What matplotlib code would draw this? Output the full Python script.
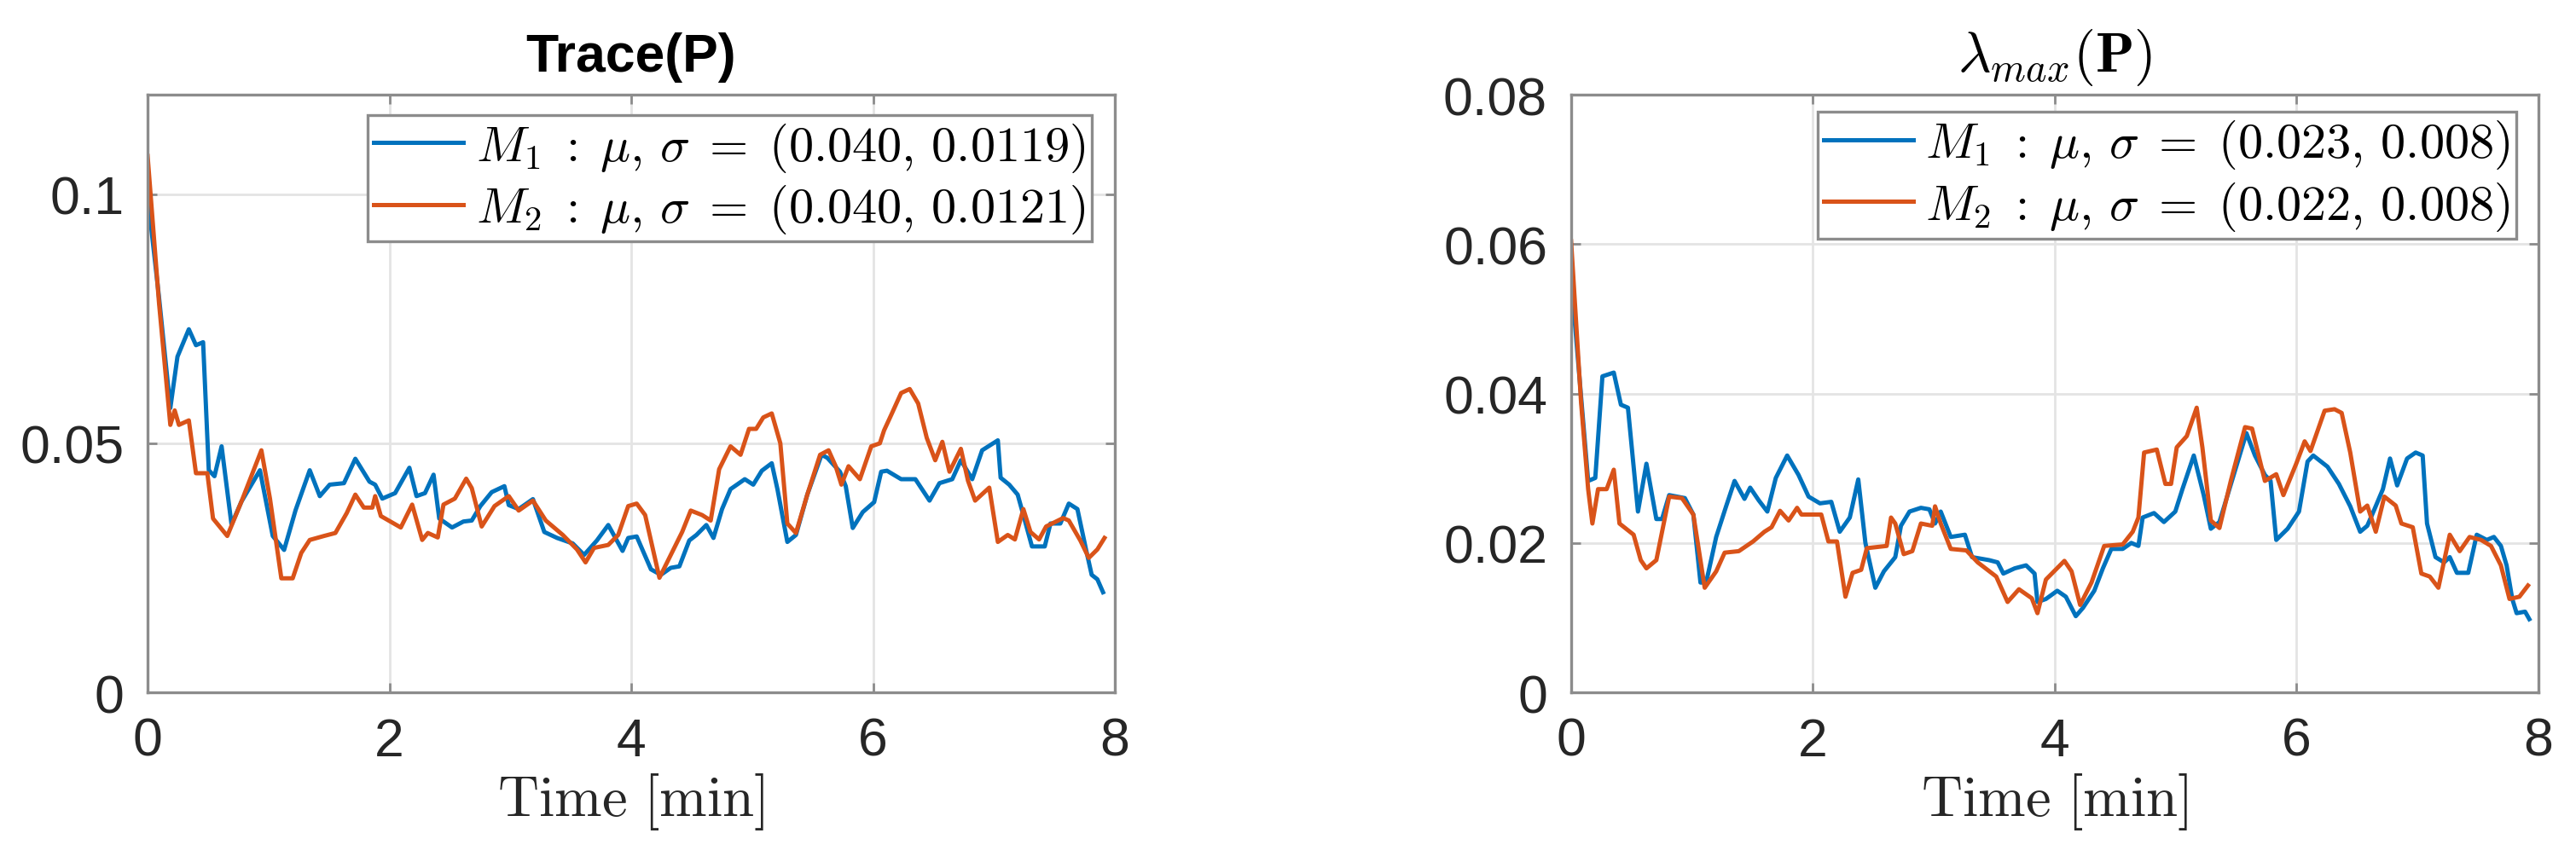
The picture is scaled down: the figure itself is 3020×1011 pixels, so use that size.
import numpy as np
import matplotlib
matplotlib.use('Agg')
import matplotlib.pyplot as plt

plt.rcParams['font.family'] = ['Liberation Sans', 'DejaVu Sans']
plt.rcParams['mathtext.fontset'] = 'cm'

# Trace(P), model M1
tr_t1 = [0, 0.094, 0.188, 0.247, 0.341, 0.40, 0.459, 0.506, 0.553, 0.612, 0.694, 0.776, 0.929,
         1.035, 1.129, 1.224, 1.341, 1.424, 1.506, 1.624, 1.718, 1.835, 1.882, 1.941, 2.047,
         2.165, 2.224, 2.294, 2.365, 2.412, 2.518, 2.612, 2.681, 2.752, 2.846, 2.951, 2.987,
         3.069, 3.187, 3.281, 3.387, 3.516, 3.61, 3.716, 3.81, 3.869, 3.928, 3.975, 4.045,
         4.163, 4.245, 4.327, 4.398, 4.48, 4.539, 4.621, 4.68, 4.751, 4.821, 4.939, 5.009,
         5.08, 5.162, 5.209, 5.291, 5.362, 5.456, 5.574, 5.621, 5.726, 5.774, 5.832, 5.915,
         6.009, 6.067, 6.115, 6.232, 6.35, 6.467, 6.549, 6.655, 6.726, 6.82, 6.902, 7.032,
         7.055, 7.126, 7.196, 7.243, 7.314, 7.42, 7.467, 7.549, 7.619, 7.69, 7.761, 7.808,
         7.855, 7.902]
tr_m1 = [0.0998, 0.0794, 0.0571, 0.0674, 0.0729, 0.0697, 0.0703, 0.0446, 0.0434, 0.0494, 0.0337,
         0.0383, 0.0446, 0.0314, 0.0286, 0.0366, 0.0446, 0.0394, 0.0417, 0.042, 0.0469, 0.0423,
         0.0417, 0.0389, 0.040, 0.0451, 0.0394, 0.040, 0.0437, 0.0349, 0.0331, 0.0343, 0.0345,
         0.0374, 0.0402, 0.0414, 0.0376, 0.0368, 0.0388, 0.0322, 0.031, 0.0299, 0.0276, 0.0305,
         0.0336, 0.031, 0.0284, 0.031, 0.0313, 0.0247, 0.0236, 0.025, 0.0253, 0.0305, 0.0316,
         0.0336, 0.031, 0.0368, 0.0408, 0.0428, 0.0417, 0.0445, 0.046, 0.0408, 0.0302, 0.0316,
         0.0397, 0.0477, 0.0471, 0.0443, 0.0414, 0.033, 0.0362, 0.0382, 0.0443, 0.0445, 0.0428,
         0.0428, 0.0385, 0.042, 0.0428, 0.0466, 0.0428, 0.0486, 0.0506, 0.0431, 0.0417, 0.0397,
         0.0356, 0.0293, 0.0293, 0.0339, 0.0339, 0.0379, 0.0368, 0.0287, 0.0236, 0.0227, 0.0201]

# Trace(P), model M2
tr_t2 = [0, 0.094, 0.188, 0.224, 0.259, 0.341, 0.40, 0.494, 0.541, 0.659, 0.776, 0.941, 1.012,
         1.106, 1.20, 1.271, 1.341, 1.459, 1.553, 1.647, 1.718, 1.788, 1.859, 1.882, 1.929,
         2.094, 2.188, 2.271, 2.318, 2.40, 2.447, 2.541, 2.635, 2.681, 2.763, 2.869, 2.987,
         3.069, 3.187, 3.293, 3.434, 3.551, 3.622, 3.692, 3.81, 3.892, 3.975, 4.045, 4.115,
         4.233, 4.327, 4.421, 4.492, 4.586, 4.657, 4.727, 4.821, 4.904, 4.974, 5.033, 5.092,
         5.162, 5.233, 5.291, 5.362, 5.456, 5.562, 5.632, 5.691, 5.738, 5.797, 5.891, 5.985,
         6.056, 6.091, 6.15, 6.232, 6.303, 6.373, 6.444, 6.514, 6.573, 6.632, 6.726, 6.785,
         6.844, 6.961, 7.032, 7.114, 7.173, 7.243, 7.302, 7.373, 7.431, 7.572, 7.619, 7.714,
         7.784, 7.855, 7.914]
tr_m2 = [0.1077, 0.0783, 0.0537, 0.0566, 0.0537, 0.0546, 0.044, 0.044, 0.0349, 0.0314, 0.0383,
         0.0486, 0.0389, 0.0229, 0.0229, 0.028, 0.0306, 0.0314, 0.032, 0.036, 0.0397, 0.0371,
         0.0371, 0.0394, 0.0354, 0.0331, 0.0377, 0.0306, 0.032, 0.0311, 0.0377, 0.0389, 0.0429,
         0.041, 0.0333, 0.0374, 0.0394, 0.0365, 0.0385, 0.0345, 0.0316, 0.0287, 0.0261, 0.029,
         0.0296, 0.0316, 0.0374, 0.0379, 0.0356, 0.023, 0.0276, 0.0322, 0.0365, 0.0356, 0.0345,
         0.0448, 0.0494, 0.0477, 0.0529, 0.0529, 0.0552, 0.056, 0.05, 0.0339, 0.032, 0.0397,
         0.0477, 0.0486, 0.0454, 0.0417, 0.0454, 0.0428, 0.0494, 0.05, 0.0526, 0.0557, 0.0601,
         0.0609, 0.058, 0.0511, 0.0466, 0.0503, 0.0443, 0.0489, 0.0425, 0.0385, 0.0411, 0.0302,
         0.0316, 0.0307, 0.0368, 0.0322, 0.0307, 0.0333, 0.035, 0.0345, 0.0305, 0.027, 0.0287,
         0.031]

# lambda_max(P), model M1
lm_t1 = [0, 0.141, 0.2, 0.259, 0.353, 0.412, 0.47, 0.553, 0.623, 0.705, 0.752, 0.811, 0.941,
         1.011, 1.07, 1.117, 1.2, 1.282, 1.352, 1.434, 1.481, 1.552, 1.623, 1.693, 1.787,
         1.881, 1.964, 2.058, 2.152, 2.222, 2.305, 2.375, 2.434, 2.516, 2.587, 2.681, 2.728,
         2.799, 2.893, 2.963, 3.01, 3.057, 3.14, 3.257, 3.316, 3.457, 3.528, 3.575, 3.669,
         3.763, 3.833, 3.857, 3.927, 4.021, 4.092, 4.174, 4.233, 4.327, 4.398, 4.468, 4.562,
         4.633, 4.692, 4.727, 4.821, 4.903, 4.997, 5.056, 5.15, 5.232, 5.291, 5.362, 5.48,
         5.585, 5.656, 5.738, 5.785, 5.832, 5.926, 6.02, 6.091, 6.138, 6.256, 6.35, 6.444,
         6.526, 6.585, 6.644, 6.714, 6.773, 6.832, 6.914, 6.985, 7.043, 7.079, 7.149, 7.22,
         7.267, 7.326, 7.42, 7.49, 7.573, 7.632, 7.69, 7.737, 7.784, 7.82, 7.89, 7.925]
lm_m1 = [0.0555, 0.0283, 0.0287, 0.0423, 0.0428, 0.0385, 0.0381, 0.0242, 0.0306, 0.0232, 0.0232,
         0.0264, 0.026, 0.0238, 0.0147, 0.0147, 0.0208, 0.0249, 0.0283, 0.0259, 0.0274, 0.0257,
         0.0242, 0.0287, 0.0317, 0.0291, 0.0262, 0.0253, 0.0255, 0.0215, 0.0234, 0.0285, 0.020,
         0.014, 0.0162, 0.0181, 0.0223, 0.0242, 0.0247, 0.0245, 0.0226, 0.0242, 0.0208, 0.0211,
         0.0181, 0.0177, 0.0174, 0.0159, 0.0166, 0.017, 0.0159, 0.0121, 0.0125, 0.0136, 0.0128,
         0.0102, 0.0113, 0.0136, 0.0166, 0.0192, 0.0192, 0.020, 0.0196, 0.0234, 0.024, 0.0228,
         0.0242, 0.0272, 0.0317, 0.0264, 0.0219, 0.0228, 0.0291, 0.0347, 0.0317, 0.0291, 0.0283,
         0.0204, 0.0219, 0.0242, 0.0309, 0.0317, 0.0302, 0.0279, 0.0249, 0.0215, 0.0223, 0.0245,
         0.0272, 0.0313, 0.0277, 0.0313, 0.0321, 0.0317, 0.0226, 0.0181, 0.0174, 0.0181, 0.016,
         0.016, 0.0211, 0.0204, 0.0208, 0.0196, 0.017, 0.0125, 0.0106, 0.0108, 0.0098]

# lambda_max(P), model M2
lm_t2 = [0, 0.082, 0.141, 0.176, 0.223, 0.294, 0.353, 0.40, 0.517, 0.576, 0.623, 0.705, 0.811,
         0.917, 1.011, 1.105, 1.2, 1.27, 1.387, 1.505, 1.599, 1.658, 1.728, 1.799, 1.869,
         1.905, 2.069, 2.128, 2.199, 2.269, 2.328, 2.399, 2.446, 2.61, 2.646, 2.681, 2.751,
         2.822, 2.893, 2.987, 3.01, 3.057, 3.14, 3.269, 3.363, 3.516, 3.61, 3.704, 3.81,
         3.857, 3.927, 4.08, 4.139, 4.21, 4.304, 4.409, 4.562, 4.645, 4.692, 4.739, 4.844,
         4.915, 4.962, 5.009, 5.092, 5.174, 5.221, 5.291, 5.362, 5.456, 5.574, 5.632, 5.738,
         5.832, 5.891, 5.997, 6.067, 6.115, 6.232, 6.314, 6.373, 6.444, 6.526, 6.585, 6.655,
         6.726, 6.82, 6.867, 6.961, 7.032, 7.102, 7.173, 7.267, 7.349, 7.431, 7.526, 7.608,
         7.69, 7.761, 7.843, 7.914]
lm_m2 = [0.0604, 0.0389, 0.0272, 0.0226, 0.0272, 0.0272, 0.0298, 0.0226, 0.0211, 0.0177, 0.0166,
         0.0177, 0.0262, 0.026, 0.0238, 0.014, 0.0162, 0.0187, 0.0189, 0.0202, 0.0215, 0.0221,
         0.0243, 0.023, 0.0247, 0.0238, 0.0238, 0.0202, 0.0202, 0.0128, 0.016, 0.0164, 0.0193,
         0.0196, 0.0234, 0.0226, 0.0185, 0.0189, 0.0226, 0.0223, 0.0249, 0.0226, 0.0192, 0.019,
         0.0174, 0.0155, 0.0121, 0.0138, 0.0126, 0.0106, 0.0151, 0.0176, 0.0162, 0.0117, 0.0147,
         0.0196, 0.0198, 0.0215, 0.0234, 0.0321, 0.0325, 0.0279, 0.0279, 0.0328, 0.0343, 0.0381,
         0.0328, 0.023, 0.022, 0.0283, 0.0355, 0.0353, 0.0283, 0.0292, 0.0264, 0.0306, 0.0336,
         0.0323, 0.0377, 0.0379, 0.0374, 0.0321, 0.0242, 0.025, 0.0215, 0.0262, 0.025, 0.0226,
         0.0221, 0.0159, 0.0155, 0.014, 0.0211, 0.0189, 0.0208, 0.0204, 0.0196, 0.017, 0.0125,
         0.0128, 0.0143]

tr_labels = [r'$M_1\;:\;\mu,\,\sigma\;=\;(0.040,\,0.0119)$', r'$M_2\;:\;\mu,\,\sigma\;=\;(0.040,\,0.0121)$']
lm_labels = [r'$M_1\;:\;\mu,\,\sigma\;=\;(0.023,\,0.008)$', r'$M_2\;:\;\mu,\,\sigma\;=\;(0.022,\,0.008)$']

x_ticks = [0, 2, 4, 6, 8]
tr_yticks = [0, 0.05, 0.1]
tr_yticklabels = ['0', '0.05', '0.1']
lm_yticks = [0, 0.02, 0.04, 0.06, 0.08]
lm_yticklabels = ['0', '0.02', '0.04', '0.06', '0.08']

BLUE = '#0072BD'
ORANGE = '#D95319'


def style_axes(ax, ylim, yticks, yticklabels):
    ax.set_xlim(0, 8)
    ax.set_ylim(*ylim)
    ax.set_xticks(x_ticks)
    ax.set_xticklabels([str(x) for x in x_ticks])
    ax.set_yticks(yticks)
    ax.set_yticklabels(yticklabels)
    ax.grid(True, color='#e4e4e4', lw=1.0)
    ax.set_axisbelow(True)
    for s in ax.spines.values():
        s.set_color('#8c8c8c')
        s.set_linewidth(1.2)
    ax.tick_params(direction='in', length=4, width=1.0, color='#8c8c8c',
                   top=True, right=True, labelsize=22.5, labelcolor='#262626', pad=10)
    ax.set_xlabel(r'$\mathrm{Time\ [min]}$', fontsize=24, labelpad=2, color='#262626')


def add_legend(ax, labels, anchor):
    leg = ax.legend(labels, loc='upper right', bbox_to_anchor=anchor, fontsize=21,
                    fancybox=False, framealpha=1, edgecolor='#8c8c8c',
                    handlelength=1.8, handletextpad=0.25, borderpad=0.12,
                    labelspacing=0.18, borderaxespad=0)
    leg.get_frame().set_linewidth(1.2)


fig = plt.figure(figsize=(15.1, 5.06), dpi=200)
ax1 = fig.add_axes([0.0573, 0.1966, 0.3755, 0.6927])
ax2 = fig.add_axes([0.6099, 0.1966, 0.3755, 0.6927])

ax1.plot(tr_t1, tr_m1, color=BLUE, lw=1.8)
ax1.plot(tr_t2, tr_m2, color=ORANGE, lw=1.8)
style_axes(ax1, (0, 0.12), tr_yticks, tr_yticklabels)
ax1.set_title('Trace(P)', fontsize=22.5, fontweight='bold', pad=10)
add_legend(ax1, tr_labels, (0.976, 0.966))

ax2.plot(lm_t1, lm_m1, color=BLUE, lw=1.8)
ax2.plot(lm_t2, lm_m2, color=ORANGE, lw=1.8)
style_axes(ax2, (0, 0.08), lm_yticks, lm_yticklabels)
ax2.set_title(r'$\lambda_{max}(\mathbf{P})$', fontsize=24, pad=10)
add_legend(ax2, lm_labels, (0.977, 0.971))

fig.savefig('out.png', dpi=200)
